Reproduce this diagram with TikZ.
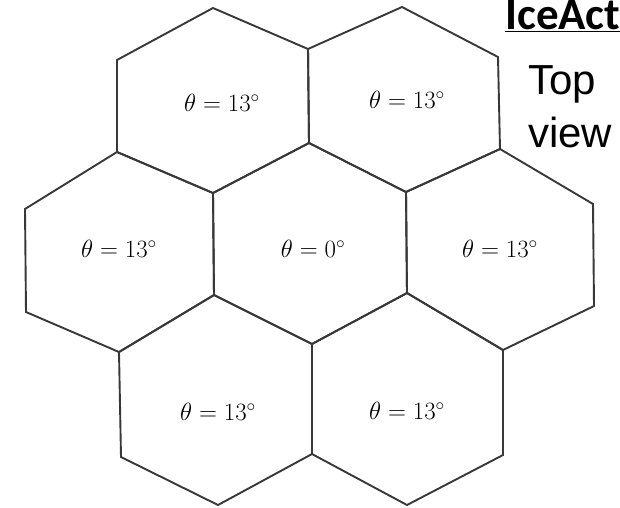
\documentclass[tikz,border=0pt]{standalone}
\usepackage{fontspec}
\newfontfamily\titlefont{Carlito}
\newfontfamily\viewfont{Liberation Sans}
\begin{document}
\begin{tikzpicture}[x=1pt,y=-1pt,
  cell/.style={draw=black!78,line width=1.9pt,line join=miter},
  anglabel/.style={inner sep=0pt,font=\fontsize{25}{29}\selectfont},
  headtext/.style={inner sep=0pt,anchor=base west}]
\useasboundingbox (0,0) rectangle (620,507);
% vertices
\coordinate (a1) at (213,8);
\coordinate (a2) at (402,7);
\coordinate (b1) at (117,60);
\coordinate (b2) at (308,49);
\coordinate (b3) at (498,57);
\coordinate (c1) at (117,152);
\coordinate (c2) at (309,143);
\coordinate (c3) at (500,149);
\coordinate (d0) at (25,209);
\coordinate (d1) at (213,193);
\coordinate (d2) at (406,192);
\coordinate (d3) at (593,204);
\coordinate (e0) at (26,312);
\coordinate (e1) at (214,295);
\coordinate (e2) at (407,293);
\coordinate (e3) at (594,306);
\coordinate (f1) at (119,352);
\coordinate (f2) at (312,344);
\coordinate (f3) at (503,350);
\coordinate (g1) at (121,457);
\coordinate (g2) at (312,454);
\coordinate (g3) at (503,455);
\coordinate (h1) at (218,505);
\coordinate (h2) at (407,505);
% hexagonal cells
\draw[cell] (a1) -- (b2) -- (c2) -- (d1) -- (c1) -- (b1) -- cycle;
\draw[cell] (a2) -- (b3) -- (c3) -- (d2) -- (c2) -- (b2) -- cycle;
\draw[cell] (c1) -- (d1) -- (e1) -- (f1) -- (e0) -- (d0) -- cycle;
\draw[cell] (c2) -- (d2) -- (e2) -- (f2) -- (e1) -- (d1) -- cycle;
\draw[cell] (c3) -- (d3) -- (e3) -- (f3) -- (e2) -- (d2) -- cycle;
\draw[cell] (e1) -- (f2) -- (g2) -- (h1) -- (g1) -- (f1) -- cycle;
\draw[cell] (e2) -- (f3) -- (g3) -- (h2) -- (g2) -- (f2) -- cycle;
% labels
\node[anglabel] (ltl) at (222,103) {$\theta = 13^\circ$};
\node[anglabel] (ltr) at (407,100) {$\theta = 13^\circ$};
\node[anglabel] (ll)  at (119,249) {$\theta = 13^\circ$};
\node[anglabel] (lc)  at (313,249) {$\theta = 0^\circ$};
\node[anglabel] (lr)  at (500,249) {$\theta = 13^\circ$};
\node[anglabel] (lbl) at (218,412) {$\theta = 13^\circ$};
\node[anglabel] (lbr) at (407,411) {$\theta = 13^\circ$};
% heading
\node[headtext,font=\titlefont\bfseries\fontsize{45}{50}\selectfont] (title) at (505,29) {\underline{IceAct}};
\node[headtext,font=\viewfont\fontsize{42}{46}\selectfont] (top) at (528,94) {Top};
\node[headtext,font=\viewfont\fontsize{42}{46}\selectfont] (view) at (528,147) {view};
\end{tikzpicture}
\end{document}
